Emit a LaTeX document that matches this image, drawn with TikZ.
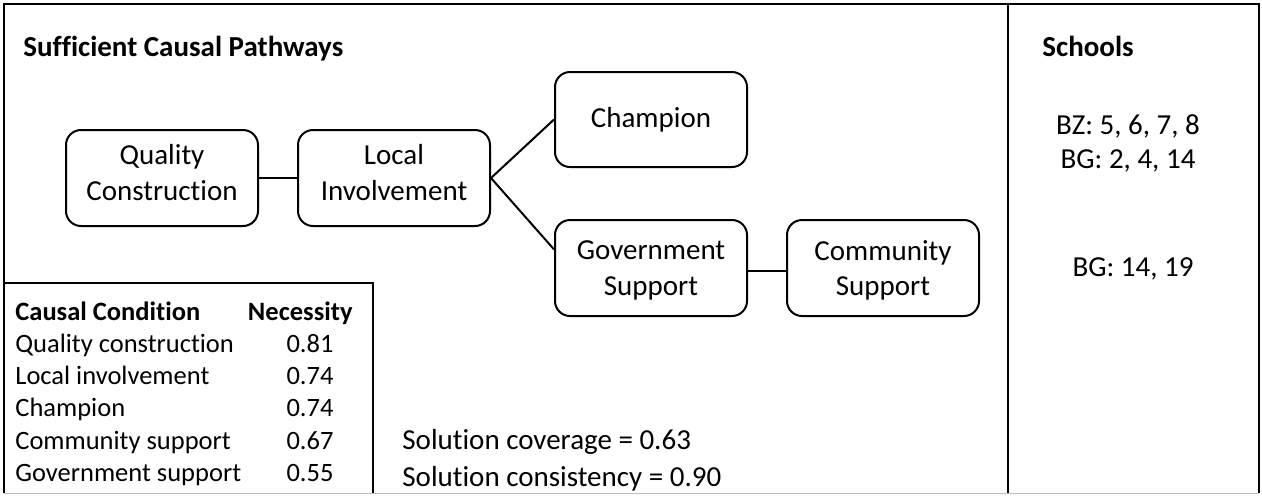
\documentclass[tikz,border=0pt]{standalone}
\usepackage{fontspec}
\setmainfont{Carlito}[Ligatures=NoCommon]
\usetikzlibrary{calc}
\tikzset{
  cond/.style={draw, rounded corners=7.5pt, line width=1pt, minimum width=96pt,
    minimum height=48pt, align=center, inner sep=2pt,
    font=\fontsize{14.5}{17.7}\selectfont},
  txt/.style={inner sep=0pt, font=\fontsize{14.5}{17.7}\selectfont},
  tab/.style={inner sep=0pt, font=\fontsize{13.25}{16}\selectfont},
}

\begin{document}
\begin{tikzpicture}[x=0.5pt, y=-0.5pt]
  \useasboundingbox (0,0) rectangle (1262,495);

  % frame and panels
  \draw[line width=1pt] (4,493) -- (4,4) -- (1259,4) -- (1259,493);
  \draw[line width=0.6pt, black!25] (4,493.5) -- (1259,493.5);
  \draw[line width=1pt] (1008,4) -- (1008,493);
  \draw[line width=1pt] (4,283) -- (373,283) -- (373,493);

  % headings
  \node[txt, anchor=base west, font=\fontsize{14.5}{17.7}\selectfont\bfseries] (pathways) at (23,56) {Sufficient Causal Pathways};
  \node[txt, anchor=base west, font=\fontsize{14.5}{17.7}\selectfont\bfseries] (schools) at (1042,56) {Schools};

  % conditions
  \node[cond, text depth=5.5pt] (quality) at (162,178) {Quality\\Construction};
  \node[cond, text depth=5.5pt] (local) at (394,178) {Local\\Involvement};
  \node[cond, minimum height=47.5pt] (champion) at (651,119.5) {Champion};
  \node[cond, text depth=0pt] (gov) at (651,268) {Government\\Support};
  \node[cond, text depth=0pt] (community) at (883,268) {Community\\Support};

  \draw[line width=1pt] (quality) -- (local);
  \draw[line width=1pt] (local.east) -- (champion.west);
  \draw[line width=1pt] (local.east) -- ($(gov.north west)!0.31!(gov.south west)$);
  \draw[line width=1pt] ([yshift=-1.5pt]gov.east) -- ([yshift=-1.5pt]community.west);

  % schools
  \node[txt, anchor=base] (bz) at (1128,134) {BZ: 5, 6, 7, 8};
  \node[txt, anchor=base] (bga) at (1128,168) {BG: 2, 4, 14};
  \node[txt, anchor=base] (bgb) at (1133,276) {BG: 14, 19};

  % necessity table
  \node[tab, anchor=base west, font=\fontsize{13.25}{16}\selectfont\bfseries] (condhead) at (15,320) {Causal Condition};
  \node[tab, anchor=base east, font=\fontsize{13.25}{16}\selectfont\bfseries] (nechead) at (353,320) {Necessity};
  \foreach \cname/\cval [count=\i] in {Quality construction/0.81, Local involvement/0.74,
      Champion/0.74, Community support/0.67, Government support/0.55} {
    \node[tab, anchor=base west] (cname\i) at (15,320+32.3*\i) {\cname};
    \node[tab, anchor=base] (cval\i) at (310,320+32.3*\i) {\cval};
  }

  % solution
  \node[txt, anchor=base west] (coverage) at (402,449) {Solution coverage = 0.63};
  \node[txt, anchor=base west] (consistency) at (402,486) {Solution consistency = 0.90};
\end{tikzpicture}
\end{document}
